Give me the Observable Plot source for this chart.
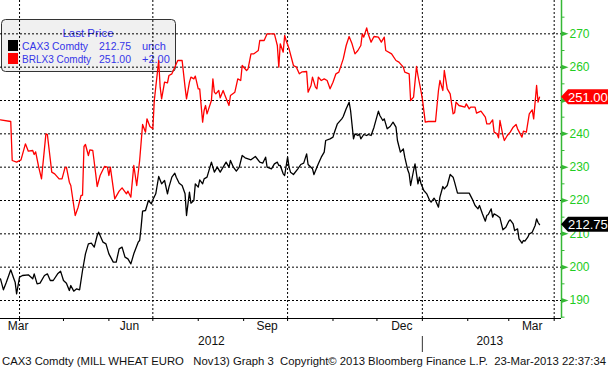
<!DOCTYPE html>
<html><head><meta charset="utf-8">
<script src="https://cdn.jsdelivr.net/npm/d3@7"></script>
<script src="https://cdn.jsdelivr.net/npm/@observablehq/plot@0.6"></script>
<style>
body{margin:0;background:#fff;}
#chart svg{display:block;}
</style></head><body><div id="chart"></div>
<script>
// ---------- data ----------
const redName = "BRLX3 Comdty";
const blackName = "CAX3 Comdty";
const redChange = "+2.00";
const blackChange = "unch";

const redDates = [
"2012-03-19","2012-03-26","2012-03-27","2012-03-30",
"2012-04-02","2012-04-05","2012-04-07","2012-04-10","2012-04-11","2012-04-12","2012-04-14","2012-04-16","2012-04-19","2012-04-20","2012-04-23","2012-04-25","2012-04-28","2012-04-30",
"2012-05-02","2012-05-03","2012-05-05","2012-05-06","2012-05-09","2012-05-11","2012-05-13","2012-05-14","2012-05-15","2012-05-16","2012-05-18","2012-05-19","2012-05-21","2012-05-23","2012-05-24","2012-05-26","2012-05-29","2012-05-31",
"2012-06-01","2012-06-02","2012-06-05","2012-06-08","2012-06-10","2012-06-13","2012-06-14","2012-06-16","2012-06-18","2012-06-20","2012-06-22","2012-06-24","2012-06-26","2012-06-27","2012-06-29",
"2012-07-01","2012-07-02","2012-07-04","2012-07-05","2012-07-06","2012-07-07","2012-07-09","2012-07-11","2012-07-12","2012-07-14","2012-07-16","2012-07-18","2012-07-21","2012-07-23","2012-07-24","2012-07-26","2012-07-27","2012-07-29","2012-07-30",
"2012-08-01","2012-08-02","2012-08-04","2012-08-05","2012-08-06","2012-08-07","2012-08-10","2012-08-11","2012-08-12","2012-08-13","2012-08-15","2012-08-16","2012-08-18","2012-08-19","2012-08-22","2012-08-23","2012-08-26","2012-08-28","2012-08-30","2012-08-31",
"2012-09-03","2012-09-04","2012-09-06","2012-09-08","2012-09-11","2012-09-12","2012-09-15","2012-09-17","2012-09-22","2012-09-24","2012-09-25","2012-09-26","2012-09-28","2012-09-29","2012-09-30",
"2012-10-02","2012-10-05","2012-10-07","2012-10-09","2012-10-11","2012-10-14","2012-10-15","2012-10-17","2012-10-18","2012-10-20","2012-10-21","2012-10-22","2012-10-24","2012-10-26","2012-10-28","2012-10-30",
"2012-11-01","2012-11-03","2012-11-05","2012-11-08","2012-11-10","2012-11-12","2012-11-14","2012-11-16","2012-11-18","2012-11-20","2012-11-21","2012-11-22","2012-11-24","2012-11-25","2012-11-27","2012-11-29",
"2012-12-02","2012-12-04","2012-12-06","2012-12-07","2012-12-11","2012-12-14","2012-12-16","2012-12-19","2012-12-20","2012-12-23","2012-12-24","2012-12-26","2012-12-28","2012-12-29","2012-12-31",
"2013-01-01","2013-01-03","2013-01-05","2013-01-10","2013-01-12","2013-01-13","2013-01-15","2013-01-16","2013-01-18","2013-01-20","2013-01-22","2013-01-23","2013-01-24","2013-01-26","2013-01-30","2013-01-31",
"2013-02-02","2013-02-03","2013-02-06","2013-02-07","2013-02-10","2013-02-13","2013-02-14","2013-02-16","2013-02-18","2013-02-19","2013-02-21","2013-02-22","2013-02-23","2013-02-25","2013-02-26","2013-02-28",
"2013-03-02","2013-03-04","2013-03-06","2013-03-07","2013-03-10","2013-03-11","2013-03-13","2013-03-15","2013-03-17","2013-03-18","2013-03-19","2013-03-20","2013-03-21","2013-03-22"];
const redValues = [
244.2,243.7,232,231.5,
232.2,237,234.8,235,233.8,234.6,230.2,226.5,240,239.8,228.5,228,226.5,226.5,
229.8,230,225.5,224.5,215.5,218,221.5,221.6,236.2,236.8,233.5,235.2,235,228,224.2,227.5,230.2,230,
227.5,230,220.5,222.8,223.8,222,222.8,221,230.5,224.5,232,242.8,240.5,244.5,242.2,
241.5,250,258,262,254,250.5,255.5,255.3,257.5,258,260,262,262,254,250.5,255.5,257,256.5,257.3,
253.5,253.5,243.5,247,248.5,246,250,256.5,252.5,252,253,250.8,253,251.8,248.5,251.5,252.5,256.5,256,260.5,
259,259.5,264,264,265,268,268,270,270,266.5,260,267,264.5,269.5,268,
265.5,260.5,260,258,258.6,258.7,252.5,254.5,257,254,253.5,257,256,256.5,256,253.5,
255.5,258,258.5,262.5,266.5,269.2,267,264,265,266.5,270,269,271.8,270,267.5,269.2,
269,267.5,269,265,264,262,261.5,260,258.5,258,250,251,260.2,257.5,253,
250.5,243.5,243.7,243.7,253,256,253,259,253.5,252,246,246.3,249.5,248.5,248,249,
247.5,248,248,246.2,246.8,245,243,243,244.2,240.5,240,238.8,244,239.5,238,239.5,
240.5,242,242.8,241.5,239,240.8,240.5,246,247.2,244.5,249.5,254.5,249.5,251];

const blackDates = [
"2012-03-19","2012-03-21","2012-03-23","2012-03-26","2012-03-28","2012-03-29","2012-03-30",
"2012-04-01","2012-04-03","2012-04-07","2012-04-10","2012-04-11","2012-04-13","2012-04-15","2012-04-18","2012-04-20","2012-04-22","2012-04-24","2012-04-27","2012-04-29",
"2012-05-01","2012-05-03","2012-05-05","2012-05-06","2012-05-08","2012-05-10","2012-05-12","2012-05-14","2012-05-16","2012-05-18","2012-05-20","2012-05-22","2012-05-24","2012-05-25","2012-05-28","2012-05-30",
"2012-06-01","2012-06-04","2012-06-06","2012-06-08","2012-06-10","2012-06-12","2012-06-14","2012-06-16","2012-06-18","2012-06-21","2012-06-22","2012-06-23","2012-06-24","2012-06-26","2012-06-28","2012-06-30",
"2012-07-01","2012-07-03","2012-07-05","2012-07-07","2012-07-09","2012-07-11","2012-07-12","2012-07-14","2012-07-16","2012-07-17","2012-07-19","2012-07-21","2012-07-23","2012-07-24","2012-07-26","2012-07-27","2012-07-29","2012-07-30",
"2012-08-01","2012-08-02","2012-08-04","2012-08-05","2012-08-07","2012-08-10","2012-08-11","2012-08-12","2012-08-14","2012-08-16","2012-08-18","2012-08-20","2012-08-22","2012-08-23","2012-08-25","2012-08-27","2012-08-29","2012-08-31",
"2012-09-02","2012-09-04","2012-09-06","2012-09-09","2012-09-12","2012-09-14","2012-09-16","2012-09-17","2012-09-20","2012-09-22","2012-09-24","2012-09-25","2012-09-26","2012-09-28","2012-09-29",
"2012-10-01","2012-10-02","2012-10-03","2012-10-05","2012-10-08","2012-10-10","2012-10-12","2012-10-14","2012-10-15","2012-10-18","2012-10-19","2012-10-22","2012-10-24","2012-10-26","2012-10-27","2012-10-30",
"2012-11-01","2012-11-02","2012-11-04","2012-11-07","2012-11-08","2012-11-10","2012-11-11","2012-11-12","2012-11-13","2012-11-15","2012-11-16","2012-11-18","2012-11-19","2012-11-20","2012-11-22","2012-11-24","2012-11-25","2012-11-27","2012-11-29",
"2012-12-02","2012-12-03","2012-12-05","2012-12-06","2012-12-08","2012-12-10","2012-12-12","2012-12-14","2012-12-15","2012-12-17","2012-12-19","2012-12-20","2012-12-22","2012-12-23","2012-12-24","2012-12-26","2012-12-27","2012-12-29","2012-12-30","2012-12-31",
"2013-01-02","2013-01-04","2013-01-06","2013-01-07","2013-01-09","2013-01-10","2013-01-12","2013-01-13","2013-01-15","2013-01-16","2013-01-18","2013-01-20","2013-01-22","2013-01-23","2013-01-25","2013-01-28",
"2013-02-02","2013-02-04","2013-02-06","2013-02-08","2013-02-09","2013-02-11","2013-02-13","2013-02-14","2013-02-15","2013-02-17","2013-02-18","2013-02-19","2013-02-21","2013-02-23","2013-02-24","2013-02-25","2013-02-27",
"2013-03-01","2013-03-02","2013-03-04","2013-03-05","2013-03-07","2013-03-08","2013-03-10","2013-03-11","2013-03-12","2013-03-14","2013-03-15","2013-03-16","2013-03-17","2013-03-19","2013-03-20","2013-03-21","2013-03-22"];
const blackValues = [
196.5,193.2,195.5,199.2,196.7,195.5,192,
197,197.5,197.7,196.5,198,195,195.2,197.5,198,196,196,198,198.8,
196,195.2,193,194.5,192.8,193.5,193.2,199,204,207,207.2,206,209.5,210.5,207.5,207,
204,201.5,201.5,205.5,206,203,202.5,201,204,207.5,208,212,216.8,217,220,219,
220.2,222,227.2,225,226,222,224,227,228.2,227,225.2,224.5,222,215.5,222.5,219.2,220,225,
224,226.2,225,226.5,227,231.5,230,228.5,230,228.5,230,231.5,230,232,230,228.8,230,233.5,
232.8,232.5,232.2,233.2,231.5,231.2,233,230,229.5,231,231.5,230.5,230.5,228,227.5,
233,230,228.5,227.8,229.5,230.8,231.2,234,230.8,229.5,227.8,231,233,234.5,238,238.5,
239,240.5,243,244.5,245.2,247.5,248.5,249.5,247,238.5,240,239.5,240,238.5,239.8,239.5,239.8,239.5,242,
246.8,245.5,244,244.5,241.5,242.2,243.5,242,238,234.5,235.5,233,229.2,228,224.5,229,231,225,227,225.2,
223,222,220,219.5,220.7,220,218,221,224.2,223.5,224.5,227.8,227,225.5,222.2,222.2,
222.2,220.5,218.5,217.5,218.5,216,213.8,215.5,215.8,217.5,215,216,215.5,214.8,213,211.2,212,
213.8,214.2,213,211,211.5,208.5,207.2,208,207.8,209,210,210.2,210.5,212.5,214.5,213.4,212.75];

const yMajorTicks = [190,200,210,220,230,240,250,260,270];
const yMinorTicks = [185,195,205,215,225,235,245,255,265,275];
const monthTickDates = ["2012-04-01","2012-05-01","2012-06-01","2012-07-01","2012-08-01","2012-09-01","2012-10-01","2012-11-01","2012-12-01","2013-01-01","2013-02-01","2013-03-01","2013-04-01"];
const gridDates = ["2012-04-01","2012-07-01","2012-10-01","2013-01-01","2013-04-01"];
const monthLabels = ["Mar","Jun","Sep","Dec","Mar"];
const monthLabelDates = ["2012-03-31","2012-06-15","2012-09-17","2012-12-18","2013-03-17"];
const yearLabels = ["2012","2013"];
const yearLabelDates = ["2012-08-10","2013-02-16"];
const yearBreakDate = "2013-01-01";
const xDomainDates = ["2012-03-19","2013-04-06"];
const yDomain = [184.6, 280];
const legendTitle = "Last Price";
const footerText = "CAX3 Comdty (MILL WHEAT EURO   Nov13) Graph 3  Copyright\u00A9 2013 Bloomberg Finance L.P.  23-Mar-2013 22:37:34";

// ---------- build ----------
const parse = d3.utcParse("%Y-%m-%d");
const red = redDates.map((d, i) => ({date: parse(d), value: redValues[i]}));
const black = blackDates.map((d, i) => ({date: parse(d), value: blackValues[i]}));
const GREEN_AXIS = "#35b835";
const GREEN_TEXT = "#22cc22";
const FONT = "'Liberation Sans', Arial, sans-serif";

const rightTriangle = {draw(ctx) { ctx.moveTo(0, -2.5); ctx.lineTo(7, 0); ctx.lineTo(0, 2.5); ctx.closePath(); }};
const minorTick = {draw(ctx) { ctx.moveTo(0, 0); ctx.lineTo(3, 0); }};

const plot = Plot.plot({
  width: 608, height: 369,
  marginLeft: 0, marginRight: 47, marginTop: 0, marginBottom: 51,
  style: {fontFamily: FONT, fontSize: "12px", background: "#fff", overflow: "visible"},
  x: {type: "utc", domain: xDomainDates.map(parse), axis: null},
  y: {domain: yDomain, axis: null},
  marks: [
    Plot.ruleY(yMajorTicks, {stroke: "#000", strokeDasharray: "2,2", strokeWidth: 1}),
    Plot.ruleX(gridDates.map(parse), {stroke: "#000", strokeDasharray: "2,2", strokeWidth: 1}),
    Plot.ruleY([yDomain[0]], {stroke: "#000"}),
    Plot.axisX(monthTickDates.map(parse), {tickSize: 3, tickFormat: () => "", stroke: "#000"}),
    Plot.text(monthLabels, {x: (d, i) => parse(monthLabelDates[i]), text: d => d, frameAnchor: "bottom", dy: 11, fill: "#111"}),
    Plot.text(yearLabels, {x: (d, i) => parse(yearLabelDates[i]), text: d => d, frameAnchor: "bottom", dy: 26, fill: "#111"}),
    Plot.ruleX([parse(xDomainDates[1])], {stroke: GREEN_AXIS, strokeWidth: 1.5}),
    Plot.dot(yMajorTicks, {y: d => d, frameAnchor: "right", symbol: rightTriangle, fill: GREEN_AXIS, stroke: null}),
    Plot.dot(yMinorTicks, {y: d => d, frameAnchor: "right", symbol: minorTick, fill: "none", stroke: GREEN_AXIS, strokeWidth: 1}),
    Plot.text(yMajorTicks, {y: d => d, text: d => String(d), frameAnchor: "right", dx: 8, textAnchor: "start", fill: GREEN_TEXT, fontSize: 12}),
    Plot.line(red, {x: "date", y: "value", stroke: "#ff0000", strokeWidth: 1.3}),
    Plot.line(black, {x: "date", y: "value", stroke: "#000", strokeWidth: 1.3})
  ]
});
document.getElementById("chart").appendChild(plot);

// ---------- decorations using the plot's scales ----------
const svg = d3.select(plot);
const xs = plot.scale("x"), ys = plot.scale("y");

// legend box (beneath marks)
const lg = svg.insert("g", "g").attr("font-family", FONT).attr("font-size", 11).attr("text-anchor", "start");
lg.append("rect").attr("x", 1.5).attr("y", 19.5).attr("width", 174).attr("height", 52).attr("rx", 4)
  .attr("fill", "#f0f0f0").attr("stroke", "#333");
lg.append("text").attr("x", 88).attr("y", 37).attr("text-anchor", "middle").attr("font-size", 11.5).attr("fill", "#3535e8").text(legendTitle);
const rows = [
  {name: blackName, color: "#000", value: blackValues[blackValues.length - 1], change: blackChange, y: 50, nameLen: 66},
  {name: redName, color: "#ff0000", value: redValues[redValues.length - 1], change: redChange, y: 63, nameLen: 69}
];
for (const r of rows) {
  lg.append("rect").attr("x", 8).attr("y", r.y - 10).attr("width", 10).attr("height", 11).attr("fill", r.color);
  lg.append("text").attr("x", 22).attr("y", r.y).attr("text-anchor", "start").attr("fill", "#3535e8")
    .attr("textLength", r.nameLen).attr("lengthAdjust", "spacingAndGlyphs").text(r.name);
  lg.append("text").attr("x", 99).attr("y", r.y).attr("text-anchor", "start").attr("fill", "#3535e8")
    .attr("textLength", 32).attr("lengthAdjust", "spacingAndGlyphs").text(r.value.toFixed(2));
  lg.append("text").attr("x", 142).attr("y", r.y).attr("text-anchor", "start").attr("fill", "#3535e8").text(r.change);
}

// last-value tags on right axis
const xr = xs.apply(parse(xDomainDates[1]));
for (const r of [{v: redValues[redValues.length - 1], c: "#ff0000"}, {v: blackValues[blackValues.length - 1], c: "#000"}]) {
  const cy = ys.apply(r.v);
  svg.append("polygon")
    .attr("points", `${xr},${cy} ${xr + 7},${cy - 7.5} 608,${cy - 7.5} 608,${cy + 7.5} ${xr + 7},${cy + 7.5}`)
    .attr("fill", r.c);
  svg.append("text").attr("x", xr + 7).attr("y", cy + 5).attr("text-anchor", "start").attr("fill", "#fff")
    .attr("font-family", FONT).attr("font-size", 13).text(r.v.toFixed(2));
}

// year separator
const xb = xs.apply(parse(yearBreakDate));
svg.append("line").attr("x1", xb + 0.5).attr("x2", xb + 0.5).attr("y1", 336).attr("y2", 352).attr("stroke", "#333");

// footer
svg.append("text").attr("x", 2).attr("y", 365).attr("text-anchor", "start")
  .attr("textLength", 604).attr("lengthAdjust", "spacingAndGlyphs")
  .attr("font-family", FONT).attr("font-size", 11).attr("fill", "#111")
  .style("white-space", "pre").text(footerText);
</script>
</body></html>
